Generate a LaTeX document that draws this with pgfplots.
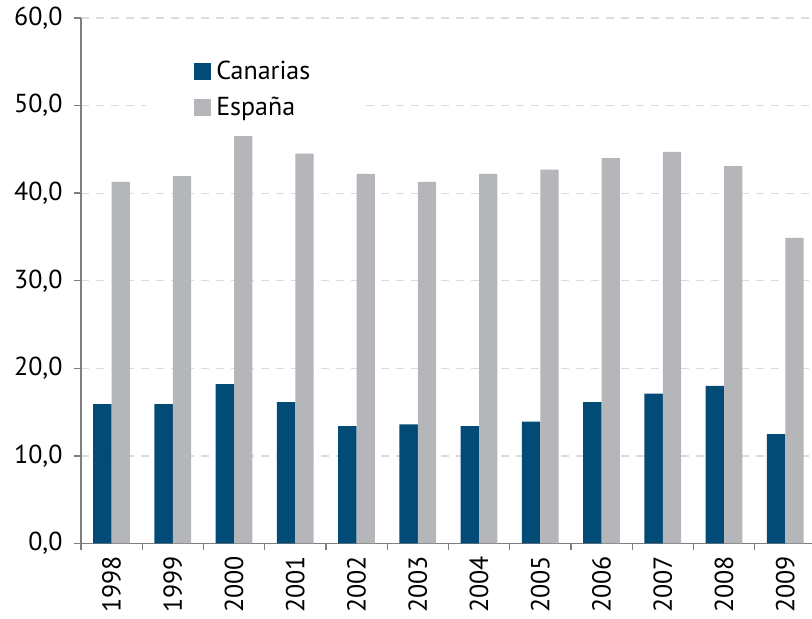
\documentclass[border=0pt]{standalone}
\usepackage{fontspec}
\setmainfont{PT Sans}
\usepackage{pgfplots}
\pgfplotsset{compat=1.18}
\definecolor{canblue}{HTML}{024B77}
\definecolor{espgray}{HTML}{B5B6BA}
\definecolor{gridgray}{HTML}{DCDCDC}
\definecolor{axgray}{HTML}{7F7F7F}
\begin{document}
\begin{tikzpicture}
\begin{axis}[
  scale only axis,
  width=731pt, height=525.5pt,
  xmin=-0.5, xmax=11.435,
  ymin=0, ymax=60,
  ybar=0pt, bar width=0.30,
  axis x line*=bottom, axis y line*=left,
  axis line style={draw=axgray, line width=1.4pt, -},
  xtick={0,...,11},
  xticklabels={1998,1999,2000,2001,2002,2003,2004,2005,2006,2007,2008,2009},
  x tick label style={rotate=90, anchor=east, xshift=-2pt},
  major x tick style={draw=none},
  minor xtick={-0.5,0.5,...,10.5},
  minor x tick style={draw=axgray, line width=1.4pt},
  ytick={0,10,...,60},
  y tick style={draw=axgray, line width=1.4pt},
  tick align=outside,
  major tick length=7pt, minor tick length=7pt,
  ymajorgrids,
  major grid style={draw=gridgray, line width=1.2pt, dash pattern=on 8pt off 7pt},
  y tick label style={xshift=-8pt, /pgf/number format/.cd, fixed, fixed zerofill, precision=1, use comma, assume math mode=true},
  tick label style={font=\fontsize{26}{30}\selectfont, text=black},
  legend style={draw=none, fill=white, at={(rel axis cs:0.089,0.9296)}, anchor=north west,
    font=\fontsize{26}{31}\selectfont, inner xsep=48pt, inner ysep=4pt, row sep=12pt},
  legend cell align=left,
  legend image code/.code={\fill[#1,draw=none] (0pt,-8.5pt) rectangle (17pt,8.5pt);},
]
\addplot[fill=canblue, draw=none] coordinates {(0,15.9) (1,15.9) (2,18.2) (3,16.15) (4,13.4) (5,13.6) (6,13.4) (7,13.9) (8,16.15) (9,17.1) (10,18.0) (11,12.5)};
\addplot[fill=espgray, draw=none] coordinates {(0,41.3) (1,41.95) (2,46.5) (3,44.5) (4,42.2) (5,41.3) (6,42.2) (7,42.7) (8,44.0) (9,44.7) (10,43.1) (11,34.9)};
\legend{\hspace{3pt}Canarias\hspace{16pt},\hspace{3pt}España\hspace{16pt}}
\coordinate (bl) at (rel axis cs:0,0);
\coordinate (tr) at (rel axis cs:1,1);
\end{axis}
\pgfresetboundingbox
\path[use as bounding box] ([shift={(-81pt,-75.5pt)}]bl) rectangle ([shift={(0pt,18pt)}]tr);
\end{tikzpicture}
\end{document}
